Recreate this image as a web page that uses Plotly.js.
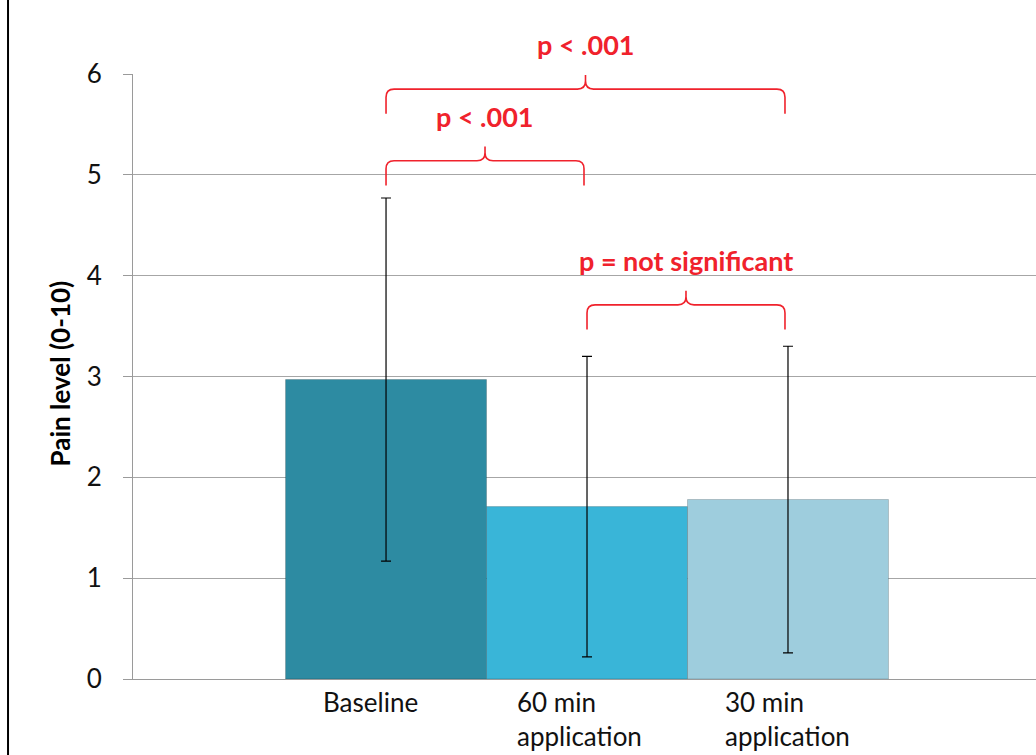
<!DOCTYPE html>
<html>
<head>
<meta charset="utf-8">
<script src="https://cdn.plot.ly/plotly-3.0.1.min.js"></script>
<style>
html,body{margin:0;padding:0;background:#fff;}
#chart{width:1036px;height:755px;}
</style>
</head>
<body>
<div id="chart"></div>
<script>
// ---- data ----
const categories = ["Baseline", "60 min<br>application", "30 min<br>application"];
const painMeans = [2.97, 1.71, 1.78];
const painSD = [1.80, 1.49, 1.52];
const barColors = ["#2d8ba2", "#39b5d8", "#9ecddd"];

// significance brackets: from/to category index, label
const bracketFrom = [0, 0, 1];
const bracketTo = [2, 1, 2];
const bracketLabels = ["p < .001", "p < .001", "p = not significant"];
const bracketLevel = [5.85, 5.14, 3.71];

// ---- drawing ----
const FONT = "Lato, 'Open Sans', sans-serif";
const RED = "#f0222c";
const YMAX = 6;
const idx = categories.map((_, i) => i);

const trace = {
  type: "bar",
  x: idx,
  y: painMeans,
  width: 1,
  marker: {color: barColors, line: {color: "rgba(0,0,0,0.18)", width: 1}},
  error_y: {type: "data", array: painSD, visible: true, color: "#000", thickness: 1.2, width: 5},
  hoverinfo: "skip"
};

const shapes = [];
const annotations = [];

// left frame line
shapes.push({type: "line", xref: "paper", yref: "paper", x0: -0.1384, x1: -0.1384, y0: -0.2, y1: 1.2,
  line: {color: "#000", width: 2}});

bracketFrom.forEach((a, i) => {
  const x0 = a + 0.0;
  const x1 = bracketTo[i] - 0.015;
  const xm = (x0 + x1) / 2;
  const yh = bracketLevel[i];
  const yEnd = yh - 0.245;
  const yTip = yh + 0.14;
  const rx = 0.04, ry = 0.08;
  const path =
    `M ${x0},${yEnd} L ${x0},${yh - ry} Q ${x0},${yh} ${x0 + rx},${yh} ` +
    `L ${xm - rx},${yh} Q ${xm},${yh} ${xm},${yh + ry} L ${xm},${yTip} ` +
    `M ${xm},${yh + ry} Q ${xm},${yh} ${xm + rx},${yh} ` +
    `L ${x1 - rx},${yh} Q ${x1},${yh} ${x1},${yh - ry} L ${x1},${yEnd}`;
  shapes.push({type: "path", xref: "x", yref: "y", path: path, line: {color: RED, width: 1.6}});
  annotations.push({xref: "x", yref: "paper", x: xm, y: (yh + 0.44) / YMAX,
    text: "<b>" + bracketLabels[i].replace(/</g, "&lt;") + "</b>",
    showarrow: false, font: {family: FONT, size: 27, color: RED}, xanchor: "center", yanchor: "middle"});
});

// category labels (left-aligned text blocks under each bar)
const labelShift = [-16, -8, 0];
categories.forEach((c, i) => {
  annotations.push({xref: "x", yref: "paper", x: i, y: 0, yanchor: "top", yshift: -5, xshift: labelShift[i],
    text: c, align: "left", showarrow: false, font: {family: FONT, size: 26, color: "#111"}});
});

// y axis title
annotations.push({xref: "paper", yref: "paper", x: 0, y: 0.505, xshift: -73, xanchor: "center", yanchor: "middle",
  textangle: -90, text: "<b>Pain level (0-10)</b>", showarrow: false,
  font: {family: FONT, size: 26, color: "#000"}});

const layout = {
  width: 1036, height: 755,
  margin: {l: 133, r: 0, t: 74, b: 76},
  paper_bgcolor: "#fff", plot_bgcolor: "#fff",
  showlegend: false,
  bargap: 0,
  font: {family: FONT},
  xaxis: {range: [-1.259, 3.234], showgrid: false, zeroline: false, showticklabels: false,
    showline: true, linecolor: "#9a9a9a", linewidth: 1, ticks: ""},
  yaxis: {range: [0, YMAX], dtick: 1, tick0: 0, showgrid: true, gridcolor: "#a6a6a6", gridwidth: 1,
    zeroline: false, showline: true, linecolor: "#9a9a9a", linewidth: 1,
    ticks: "outside", ticklen: 9, tickcolor: "#9a9a9a", ticklabelstandoff: 16,
    tickfont: {family: FONT, size: 26, color: "#111"}},
  shapes: shapes,
  annotations: annotations
};

Plotly.newPlot("chart", [trace], layout, {staticPlot: true, displayModeBar: false});
</script>
</body>
</html>
